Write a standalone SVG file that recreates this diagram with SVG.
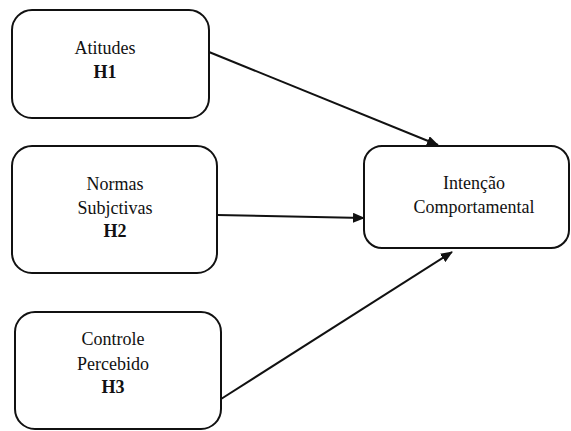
<svg xmlns="http://www.w3.org/2000/svg" width="571" height="431" viewBox="0 0 571 431">
<style>
.box{fill:#fff;stroke:#111;stroke-width:2}
.t{font-size:18px;fill:#111;text-anchor:middle}
.b{font-weight:bold}
.c{stroke:#111;stroke-width:2;fill:none;marker-end:url(#ah)}
</style>
<defs>
<marker id="ah" viewBox="0 0 12 10" refX="11" refY="5" markerWidth="12" markerHeight="10" markerUnits="userSpaceOnUse" orient="auto">
<path d="M0,0 L12,5 L0,10 Z" fill="#111"/>
</marker>
</defs>
<g id="connectors">
<line class="c" x1="209" y1="52" x2="438" y2="145"/>
<line class="c" x1="217" y1="215" x2="364" y2="218"/>
<line class="c" x1="221" y1="399" x2="452" y2="252"/>
</g>
<g font-family="Liberation Serif, Times New Roman, serif">
<g id="atitudes">
<rect class="box" x="12" y="10" width="197" height="108" rx="20"/>
<text class="t" x="105" y="54">Atitudes</text>
<text class="t b" x="105" y="78">H1</text>
</g>
<g id="normas">
<rect class="box" x="12" y="146" width="205" height="127" rx="20"/>
<text class="t" x="115" y="190">Normas</text>
<text class="t" x="115" y="214">Subjctivas</text>
<text class="t b" x="115" y="237">H2</text>
</g>
<g id="controle">
<rect class="box" x="15" y="312" width="206" height="117" rx="20"/>
<text class="t" x="113" y="345">Controle</text>
<text class="t" x="113" y="370">Percebido</text>
<text class="t b" x="113" y="393">H3</text>
</g>
<g id="intencao">
<rect class="box" x="364" y="146" width="205" height="102" rx="18"/>
<text class="t" x="474" y="189">Intenção</text>
<text class="t" x="474" y="213">Comportamental</text>
</g>
</g>
</svg>
